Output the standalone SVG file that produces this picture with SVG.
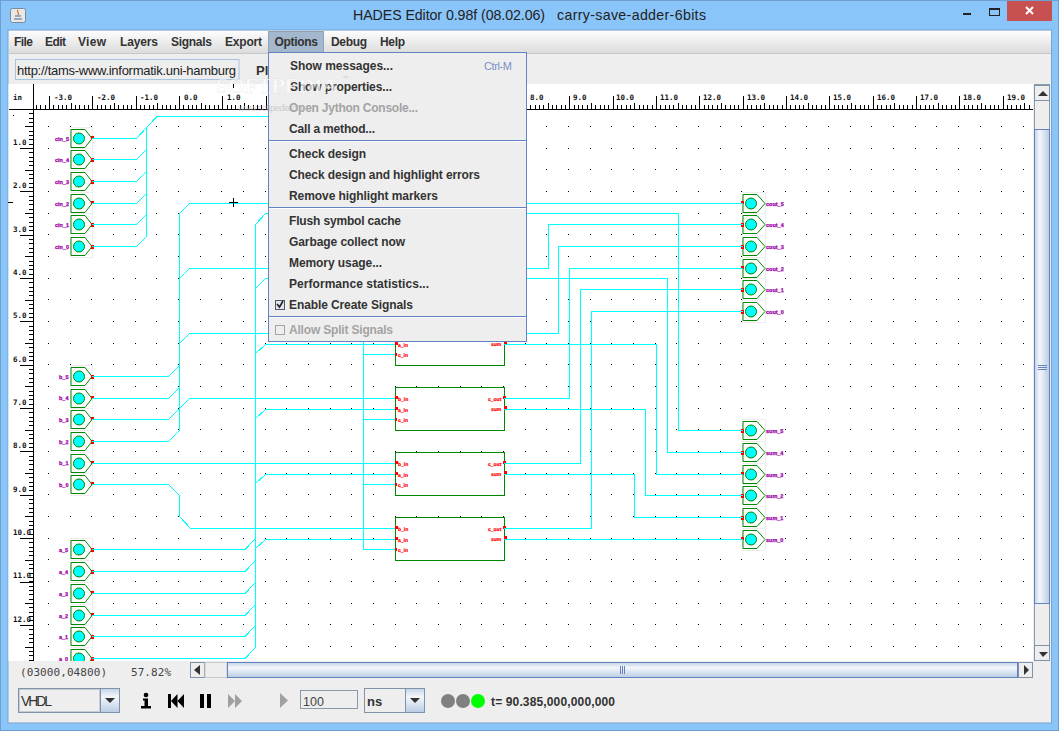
<svg xmlns="http://www.w3.org/2000/svg" width="1059" height="731" viewBox="0 0 1059 731">
<style>
text{font-family:"Liberation Sans",Arial,sans-serif}
.m{font-size:12px;font-weight:bold;fill:#333}
.dis{fill:#a3a3a3}
.r{font-family:"DejaVu Sans Mono",monospace;font-size:7.5px;font-weight:bold;fill:#111}
.lbl{font-size:5.5px;font-weight:bold;fill:#a000a8;stroke:#a000a8;stroke-width:.25;text-rendering:geometricPrecision}
.pl{font-size:5px;font-weight:bold;fill:#f00;stroke:#f00;stroke-width:.2;text-rendering:geometricPrecision}
.wire{fill:none;stroke:#0ff;stroke-width:1;shape-rendering:crispEdges}
.bg{fill:#fff;stroke:#eee;stroke-width:1}
.pent{fill:#fff;stroke:#080;stroke-width:1}
.disc{fill:#0ff;stroke:#080;stroke-width:1}
.port{fill:#f00;shape-rendering:crispEdges}
.fa{fill:#fff;stroke:#080;stroke-width:1.2;shape-rendering:crispEdges}
.tick{fill:none;stroke:#000;shape-rendering:crispEdges}
.sb{stroke:#6382bf;stroke-width:1;shape-rendering:crispEdges}
.btn{fill:#eee;stroke:#7f93a8;stroke-width:1;shape-rendering:crispEdges}
.arr{fill:#333}
.sep{stroke:#6382bf;stroke-width:1;shape-rendering:crispEdges}
.sepw{stroke:#fff;stroke-width:1;shape-rendering:crispEdges}
</style>
<defs>
<linearGradient id="gBar" x1="0" y1="0" x2="0" y2="1"><stop offset="0" stop-color="#fdfdfd"/><stop offset="1" stop-color="#dcdcdc"/></linearGradient>
<linearGradient id="gH" x1="0" y1="0" x2="0" y2="1"><stop offset="0" stop-color="#c3d3e8"/><stop offset=".35" stop-color="#f4f7fb"/><stop offset="1" stop-color="#b9cce3"/></linearGradient>
<linearGradient id="gV" x1="0" y1="0" x2="1" y2="0"><stop offset="0" stop-color="#c3d3e8"/><stop offset=".35" stop-color="#f4f7fb"/><stop offset="1" stop-color="#b9cce3"/></linearGradient>
<clipPath id="canvas"><rect x="34" y="110" width="999" height="551"/></clipPath>
<g id="inSym"><rect class="bg" x="70.5" y="-11" width="22" height="22"/><polygon class="pent" points="71,-9 85,-9 92,0 85,9 71,9"/><circle class="disc" cx="79" cy="0" r="5.5"/></g>
<g id="outSym"><rect class="bg" x="742.5" y="-11" width="23" height="22"/><polygon class="pent" points="743,-9 757,-9 765,0 757,9 743,9"/><circle class="disc" cx="751" cy="0" r="5.5"/></g>
</defs>

<rect width="1059" height="731" fill="#8ac5fa"/>
<rect x="0.5" y="0.5" width="1058" height="730" fill="none" stroke="#6f9fcf"/>
<g id="titlebar">
<rect x="10.5" y="8.5" width="15" height="14" rx="2" fill="#e8e8e8" stroke="#7a8a9a"/>
<path d="M14 19h8M15 16h6" stroke="#4a6a90" stroke-width="1.2"/>
<path d="M18 10c-2 2 2 3 0 5" stroke="#d9702a" stroke-width="1.3" fill="none"/>
<text x="353" y="20" font-size="14.2" fill="#222" textLength="192">HADES Editor 0.98f (08.02.06)</text>
<text x="557" y="20" font-size="14.2" fill="#222" textLength="149">carry-save-adder-6bits</text>
<rect x="963" y="13" width="8" height="2" fill="#222"/>
<rect x="989.5" y="8.5" width="10" height="7" fill="none" stroke="#222"/><rect x="989" y="8" width="11" height="2" fill="#222"/>
<rect x="1007" y="1" width="45" height="20" fill="#c75050"/>
<path d="M1026 7l7 7M1033 7l-7 7" stroke="#fff" stroke-width="2"/>
</g>
<rect x="8" y="30" width="1043.5" height="693" fill="#eee" stroke="#78a5d0"/>
<g id="menubar">
<rect x="9" y="31" width="1042" height="22" fill="url(#gBar)"/>
<rect x="9" y="53" width="1042" height="1" fill="#c8c8c8"/>
<rect x="268.5" y="31.5" width="55" height="21" fill="#a3b8cc" stroke="#8ea3b8"/>
<text class="m" x="14" y="46" textLength="19">File</text>
<text class="m" x="45" y="46" textLength="21">Edit</text>
<text class="m" x="78" y="46" textLength="28">View</text>
<text class="m" x="120" y="46" textLength="38">Layers</text>
<text class="m" x="171" y="46" textLength="41">Signals</text>
<text class="m" x="225" y="46" textLength="37">Export</text>
<text class="m" x="274.5" y="46" textLength="43.5">Options</text>
<text class="m" x="331" y="46" textLength="36">Debug</text>
<text class="m" x="380" y="46" textLength="25">Help</text>
</g>
<g id="toolbar">
<rect x="15.5" y="59.5" width="223.5" height="20" fill="#eee" stroke="#a6c3e2"/>
<text x="17" y="74.5" font-size="13" fill="#222" textLength="219">http://tams-www.informatik.uni-hamburg</text>
<text x="256" y="74.5" font-size="13" font-weight="bold" fill="#333">Pl</text>
</g>

<g id="rulers">
<rect x="8.5" y="84" width="1024.5" height="26" fill="#fff"/>
<rect x="8.5" y="110" width="25.5" height="551" fill="#fff"/>
<path class="tick" d="M8.5 109.5H1033M33.5 84V661" stroke-width="1"/>
<path class="tick" d="M36 107H1033" stroke-width="4" stroke-dasharray="1 3.335"/>
<path class="tick" d="M70.7 106H1033" stroke-width="6" stroke-dasharray="1 42.35"/>
<path class="tick" d="M49 102.5H1033" stroke-width="13" stroke-dasharray="1 42.35"/>
<path class="tick" d="M31 113.3V661" stroke-width="4" stroke-dasharray="1 3.335"/>
<path class="tick" d="M29 126.3V661" stroke-width="8" stroke-dasharray="1 42.35"/>
<path class="tick" d="M26.5 148V661" stroke-width="13" stroke-dasharray="1 42.35"/>
<path class="tick" d="M233.5 84V88M8 202.5H13"/>
<rect x="13" y="115" width="1" height="1" fill="#000"/>
<text class="r" x="13" y="100" font-size="8">in</text>
<text class="r" x="54" y="100">-3.0</text><text class="r" x="97" y="100">-2.0</text><text class="r" x="140" y="100">-1.0</text><text class="r" x="184" y="100">0.0</text><text class="r" x="227" y="100">1.0</text><text class="r" x="530" y="100">8.0</text><text class="r" x="573" y="100">9.0</text><text class="r" x="616" y="100">10.0</text><text class="r" x="660" y="100">11.0</text><text class="r" x="703" y="100">12.0</text><text class="r" x="747" y="100">13.0</text><text class="r" x="790" y="100">14.0</text><text class="r" x="833" y="100">15.0</text><text class="r" x="877" y="100">16.0</text><text class="r" x="920" y="100">17.0</text><text class="r" x="963" y="100">18.0</text><text class="r" x="1007" y="100">19.0</text>
<text class="r" x="13" y="145">1.0</text><text class="r" x="13" y="188">2.0</text><text class="r" x="13" y="232">3.0</text><text class="r" x="13" y="275">4.0</text><text class="r" x="13" y="318">5.0</text><text class="r" x="13" y="362">6.0</text><text class="r" x="13" y="405">7.0</text><text class="r" x="13" y="448">8.0</text><text class="r" x="13" y="492">9.0</text><text class="r" x="13" y="535">10.0</text><text class="r" x="13" y="578">11.0</text><text class="r" x="13" y="622">12.0</text>
</g>

<g clip-path="url(#canvas)">
<rect x="34" y="110" width="999" height="551" fill="#fff"/>
<path id="grid" fill="none" stroke="#000" stroke-width="1" stroke-dasharray="1 20.67" shape-rendering="crispEdges" d="M48 126.5H1030M48 148.5H1030M48 169.5H1030M48 191.5H1030M48 213.5H1030M48 234.5H1030M48 256.5H1030M48 278.5H1030M48 299.5H1030M48 321.5H1030M48 343.5H1030M48 364.5H1030M48 386.5H1030M48 408.5H1030M48 429.5H1030M48 451.5H1030M48 473.5H1030M48 494.5H1030M48 516.5H1030M48 538.5H1030M48 559.5H1030M48 581.5H1030M48 603.5H1030M48 624.5H1030M48 646.5H1030"/>

<g id="cin_5" transform="translate(0,138.5)"><use href="#inSym"/><rect class="port" x="91" y="-3" width="3" height="3"/><text class="lbl" x="55" y="2">cin_5</text></g>
<g id="cin_4" transform="translate(0,159.5)"><use href="#inSym"/><rect class="port" x="91" y="-2" width="3" height="4"/><text class="lbl" x="55" y="2">cin_4</text></g>
<g id="cin_3" transform="translate(0,181.5)"><use href="#inSym"/><rect class="port" x="91" y="-2" width="3" height="4"/><text class="lbl" x="55" y="2">cin_3</text></g>
<g id="cin_2" transform="translate(0,203.5)"><use href="#inSym"/><rect class="port" x="91" y="-3" width="3" height="3"/><text class="lbl" x="55" y="2">cin_2</text></g>
<g id="cin_1" transform="translate(0,224.5)"><use href="#inSym"/><rect class="port" x="91" y="-2" width="3" height="4"/><text class="lbl" x="55" y="2">cin_1</text></g>
<g id="cin_0" transform="translate(0,246.5)"><use href="#inSym"/><rect class="port" x="91" y="-2" width="3" height="4"/><text class="lbl" x="55" y="2">cin_0</text></g>

<g id="b_5" transform="translate(0,376.5)"><use href="#inSym"/><rect class="port" x="91" y="-2" width="3" height="4"/><text class="lbl" x="59" y="2">b_5</text></g>
<g id="b_4" transform="translate(0,398.5)"><use href="#inSym"/><rect class="port" x="91" y="-3" width="3" height="3"/><text class="lbl" x="59" y="1">b_4</text></g>
<g id="b_3" transform="translate(0,419.5)"><use href="#inSym"/><rect class="port" x="91" y="-3" width="3" height="3"/><text class="lbl" x="59" y="2">b_3</text></g>
<g id="b_2" transform="translate(0,441.5)"><use href="#inSym"/><rect class="port" x="91" y="-2" width="3" height="4"/><text class="lbl" x="59" y="2">b_2</text></g>
<g id="b_1" transform="translate(0,463.5)"><use href="#inSym"/><rect class="port" x="91" y="-3" width="3" height="3"/><text class="lbl" x="59" y="1">b_1</text></g>
<g id="b_0" transform="translate(0,484.5)"><use href="#inSym"/><rect class="port" x="91" y="-3" width="3" height="3"/><text class="lbl" x="59" y="2">b_0</text></g>

<g id="a_5" transform="translate(0,549.5)"><use href="#inSym"/><rect class="port" x="91" y="-2" width="3" height="4"/><text class="lbl" x="59" y="2">a_5</text></g>
<g id="a_4" transform="translate(0,571.5)"><use href="#inSym"/><rect class="port" x="91" y="-2" width="3" height="4"/><text class="lbl" x="59" y="2">a_4</text></g>
<g id="a_3" transform="translate(0,593.5)"><use href="#inSym"/><rect class="port" x="91" y="-3" width="3" height="3"/><text class="lbl" x="59" y="2">a_3</text></g>
<g id="a_2" transform="translate(0,615.5)"><use href="#inSym"/><rect class="port" x="91" y="-3" width="3" height="3"/><text class="lbl" x="59" y="2">a_2</text></g>
<g id="a_1" transform="translate(0,636.5)"><use href="#inSym"/><rect class="port" x="91" y="-2" width="3" height="4"/><text class="lbl" x="59" y="2">a_1</text></g>
<g id="a_0" transform="translate(0,658.5)"><use href="#inSym"/><rect class="port" x="91" y="-2" width="3" height="4"/><text class="lbl" x="59" y="2">a_0</text></g>

<g id="fa_3">
<rect class="fa" x="395.5" y="322.5" width="109" height="43"/>
<rect class="port" x="395" y="342" width="3" height="3"/><rect class="port" x="395" y="353" width="2" height="3"/><rect class="port" x="504" y="341" width="3" height="3"/>
<text class="pl" x="398" y="347">a_in</text><text class="pl" x="398" y="357">c_in</text><text class="pl" x="491" y="346">sum</text>
</g>
<g id="fa_2" transform="translate(0,65)">
<rect class="fa" x="395.5" y="322.5" width="109" height="43"/>
<rect class="port" x="395" y="331" width="3" height="3"/><rect class="port" x="395" y="342" width="3" height="3"/><rect class="port" x="395" y="353" width="2" height="3"/><rect class="port" x="503" y="331" width="3" height="3"/><rect class="port" x="504" y="341" width="3" height="3"/>
<text class="pl" x="398" y="336">b_in</text><text class="pl" x="398" y="347">a_in</text><text class="pl" x="398" y="357">c_in</text><text class="pl" x="488" y="336">c_out</text><text class="pl" x="491" y="346">sum</text>
</g>
<g id="fa_1" transform="translate(0,130)">
<rect class="fa" x="395.5" y="322.5" width="109" height="43"/>
<rect class="port" x="395" y="331" width="3" height="3"/><rect class="port" x="395" y="342" width="3" height="3"/><rect class="port" x="395" y="353" width="2" height="3"/><rect class="port" x="503" y="331" width="3" height="3"/><rect class="port" x="504" y="341" width="3" height="3"/>
<text class="pl" x="398" y="336">b_in</text><text class="pl" x="398" y="347">a_in</text><text class="pl" x="398" y="357">c_in</text><text class="pl" x="488" y="336">c_out</text><text class="pl" x="491" y="346">sum</text>
</g>
<g id="fa_0" transform="translate(0,195)">
<rect class="fa" x="395.5" y="322.5" width="109" height="43"/>
<rect class="port" x="395" y="331" width="3" height="3"/><rect class="port" x="395" y="342" width="3" height="3"/><rect class="port" x="395" y="353" width="2" height="3"/><rect class="port" x="503" y="331" width="3" height="3"/><rect class="port" x="504" y="341" width="3" height="3"/>
<text class="pl" x="398" y="336">b_in</text><text class="pl" x="398" y="347">a_in</text><text class="pl" x="398" y="357">c_in</text><text class="pl" x="488" y="336">c_out</text><text class="pl" x="491" y="346">sum</text>
</g>

<g id="cout_5" transform="translate(0,203.5)"><use href="#outSym"/><rect class="port" x="741" y="-3" width="3" height="3"/><text class="lbl" x="766" y="2">cout_5</text></g>
<g id="cout_4" transform="translate(0,224.5)"><use href="#outSym"/><rect class="port" x="741" y="-2" width="3" height="4"/><text class="lbl" x="766" y="2">cout_4</text></g>
<g id="cout_3" transform="translate(0,246.5)"><use href="#outSym"/><rect class="port" x="741" y="-2" width="3" height="4"/><text class="lbl" x="766" y="2">cout_3</text></g>
<g id="cout_2" transform="translate(0,268.5)"><use href="#outSym"/><rect class="port" x="741" y="-3" width="3" height="3"/><text class="lbl" x="766" y="2">cout_2</text></g>
<g id="cout_1" transform="translate(0,289.5)"><use href="#outSym"/><rect class="port" x="741" y="-2" width="3" height="4"/><text class="lbl" x="766" y="2">cout_1</text></g>
<g id="cout_0" transform="translate(0,311.5)"><use href="#outSym"/><rect class="port" x="741" y="-2" width="3" height="4"/><text class="lbl" x="766" y="2">cout_0</text></g>
<g id="sum_5" transform="translate(0,430.5)"><use href="#outSym"/><rect class="port" x="741" y="-2" width="3" height="4"/><text class="lbl" x="766" y="2">sum_5</text></g>
<g id="sum_4" transform="translate(0,452.5)"><use href="#outSym"/><rect class="port" x="741" y="-2" width="3" height="4"/><text class="lbl" x="766" y="2">sum_4</text></g>
<g id="sum_3" transform="translate(0,474.5)"><use href="#outSym"/><rect class="port" x="741" y="-3" width="3" height="3"/><text class="lbl" x="766" y="2">sum_3</text></g>
<g id="sum_2" transform="translate(0,495.5)"><use href="#outSym"/><rect class="port" x="741" y="-2" width="3" height="4"/><text class="lbl" x="766" y="2">sum_2</text></g>
<g id="sum_1" transform="translate(0,517.5)"><use href="#outSym"/><rect class="port" x="741" y="-2" width="3" height="4"/><text class="lbl" x="766" y="2">sum_1</text></g>
<g id="sum_0" transform="translate(0,539.5)"><use href="#outSym"/><rect class="port" x="741" y="-3" width="3" height="3"/><text class="lbl" x="766" y="2">sum_0</text></g>

<g id="connectors" class="wire">
<path class="wire" d="M92 138.5H136.5L146.5 127.5V236.5M92 159.5H136.5L146.5 149.5M92 181.5H136.5L146.5 171.5M92 203.5H136.5L146.5 193.5M92 224.5H136.5L146.5 214.5M92 246.5H136.5L146.5 236.5M146.5 127.5L157 116.5H280"/>
<path class="wire" d="M92 376.5H168.5L179.5 365.5M92 398.5H168.5L179.5 387.5M92 419.5H168.5L189.5 398.5H395M92 441.5H168.5L179.5 430.5V213.5L189.5 203.5H280M179.5 278.5L189.5 268.5H280M179.5 343.5L189.5 333.5H280"/>
<path class="wire" d="M92 463.5H395M92 484.5H168.5L179.5 495.5V516.5L190.5 528.5H395"/>
<path class="wire" d="M92 549.5H245L255.5 538.5M92 571.5H245L255.5 560.5M92 593.5H245L255.5 582.5M92 615.5H245L255.5 604.5M92 636.5H245L255.5 625.5M92 658.5H245L255.5 647.5V224.5L265.5 213.5H280M255.5 288.5L265.5 278.5H280M255.5 353.5L265.5 344.5H395M255.5 418.5L265.5 409.5H395M255.5 483.5L265.5 474.5H395M255.5 548.5L265.5 539.5H395"/>
<path class="wire" d="M363.5 330V549.5H395M363.5 354.5H395M363.5 419.5H395M363.5 484.5H395"/>
<path class="wire" d="M520 203.5H743M520 268.5H548.5V224.5H743M520 333.5H558.5V246.5H743M504 398.5H569.5V268.5H743M504 463.5H580.5V289.5H743M504 528.5H591.5V311.5H743"/>
<path class="wire" d="M520 213.5H678.5V430.5H743M520 278.5H667.5V452.5H743M504 344.5H656.5V474.5H743M504 409.5H645.5V495.5H743M504 474.5H634.5V517.5H743M504 539.5H743"/>
</g>
<path class="tick" d="M229 202.5H238M233.5 198V207" stroke-width="1"/>
</g>

<g id="vscroll">
<rect x="1034.5" y="84.5" width="15" height="576" fill="#eee" stroke="#8a9aaa"/>
<rect class="btn" x="1034.5" y="85.5" width="15" height="15"/>
<polygon class="arr" points="1038,96 1048,96 1043,91"/>
<rect class="sb" x="1034.5" y="129.5" width="15" height="473.5" fill="url(#gV)"/>
<path class="sb" d="M1038 365.5H1047M1038 367.5H1047M1038 369.5H1047" fill="none"/>
<rect class="btn" x="1034.5" y="645.5" width="15" height="15"/>
<polygon class="arr" points="1039,652 1048,652 1043,657"/>
</g>
<g id="hscroll">
<rect class="btn" x="190.5" y="662.5" width="14" height="15"/>
<polygon class="arr" points="200,665 200,675 194,670"/>
<rect x="205" y="662.5" width="22" height="15" fill="#eee" stroke="#c8c8c8"/>
<rect class="sb" x="227.5" y="662.5" width="790" height="15" fill="url(#gH)"/>
<path class="sb" d="M620.5 666V674M622.5 666V674M624.5 666V674" fill="none"/>
<rect class="btn" x="1018.5" y="662.5" width="14" height="15"/>
<polygon class="arr" points="1024,665 1024,675 1029,670"/>
</g>
<g id="statusbar">
<text x="20" y="676" font-size="11" fill="#444" textLength="87" style="font-family:'DejaVu Sans Mono',monospace">(03000,04800)</text>
<text x="131" y="676" font-size="11" fill="#444" textLength="40" style="font-family:'DejaVu Sans Mono',monospace">57.82%</text>
<rect x="18.5" y="688.5" width="101" height="24" fill="#eee" stroke="#7f93a8"/>
<rect x="19.5" y="689.5" width="80" height="22" fill="#eee" stroke="#c6ccd4"/>
<rect x="100.5" y="688.5" width="19" height="24" fill="url(#gH)" stroke="#7f93a8"/>
<polygon class="arr" points="105,698 115,698 110,703"/>
<text x="21" y="706" font-size="14" fill="#333" textLength="31">VHDL</text>
<circle cx="146" cy="695" r="2.3" fill="#000"/>
<path d="M143 698.5H148V706H151V708.5H141V706H144.5V700.5H143Z" fill="#000"/>
<path d="M168 694H171V708H168ZM184 694V708L177.5 701ZM177.5 694V708L171 701Z" fill="#000"/>
<path d="M200 694H204V708H200ZM207 694H211V708H207Z" fill="#000"/>
<path d="M228 694V708L235 701ZM235 694V708L242 701Z" fill="#a0a0a0"/>
<polygon points="280,693 280,708 288,700.5" fill="#a0a0a0"/>
<rect x="300.5" y="690.5" width="57" height="18" fill="#eee" stroke="#8a9aa8"/>
<text x="303" y="706" font-size="12.5" fill="#444">100</text>
<rect x="364.5" y="688.5" width="60" height="24" fill="#eee" stroke="#7f93a8"/>
<rect x="405.5" y="688.5" width="19" height="24" fill="url(#gH)" stroke="#7f93a8"/>
<polygon class="arr" points="410,698 420,698 415,703"/>
<text x="367" y="706" font-size="13" font-weight="bold" fill="#333">ns</text>
<circle cx="448" cy="701" r="7" fill="#808080"/><circle cx="463" cy="701" r="7" fill="#808080"/><circle cx="478" cy="701" r="7" fill="#0f0"/>
<text x="491" y="706" font-size="12" font-weight="bold" fill="#333" textLength="124">t= 90.385,000,000,000</text>
</g>

<g id="optionsMenu">
<rect x="268.5" y="52.5" width="258" height="289" fill="#eee" stroke="#6382bf"/>
<text class="m" x="290" y="70" textLength="103">Show messages...</text>
<text x="484" y="70" font-size="11" fill="#7a8fc8" textLength="28">Ctrl-M</text>
<text class="m" x="290" y="91" textLength="102">Show properties...</text>
<text class="m dis" x="289" y="112" textLength="129">Open Jython Console...</text>
<text class="m" x="289" y="133" textLength="86">Call a method...</text>
<path class="sep" d="M269 140.5H526"/><path class="sepw" d="M269 141.5H526"/>
<text class="m" x="289" y="158" textLength="77">Check design</text>
<text class="m" x="289" y="179" textLength="191">Check design and highlight errors</text>
<text class="m" x="289" y="200" textLength="149">Remove highlight markers</text>
<path class="sep" d="M269 207.5H526"/><path class="sepw" d="M269 208.5H526"/>
<text class="m" x="289" y="225" textLength="112">Flush symbol cache</text>
<text class="m" x="289" y="246" textLength="116">Garbage collect now</text>
<text class="m" x="289" y="267" textLength="93">Memory usage...</text>
<text class="m" x="289" y="288" textLength="140">Performance statistics...</text>
<rect x="275.5" y="300.5" width="9" height="9" fill="#dfe6f0" stroke="#556"/>
<path d="M277 304l2.5 3 3.5-6" fill="none" stroke="#222" stroke-width="1.6"/>
<text class="m" x="289" y="309" textLength="124">Enable Create Signals</text>
<path class="sep" d="M269 316.5H526"/><path class="sepw" d="M269 317.5H526"/>
<rect x="275.5" y="325.5" width="9" height="9" fill="#eee" stroke="#a3a3a3"/>
<text class="m dis" x="289" y="334" textLength="104">Allow Split Signals</text>
</g>
<g id="watermark">
<text x="216" y="93" font-size="22" font-weight="bold" fill="#fff" fill-opacity=".7" stroke="#ccc" stroke-opacity=".35" stroke-width=".5" textLength="122" style="font-family:'Liberation Serif',serif">SOFTPEDIA</text>
<text x="342" y="80" font-size="6" fill="#ccc">™</text>
<text x="238" y="111" font-size="9" fill="#bbb" fill-opacity=".7" textLength="70">www.softpedia.com</text>
</g>
</svg>
